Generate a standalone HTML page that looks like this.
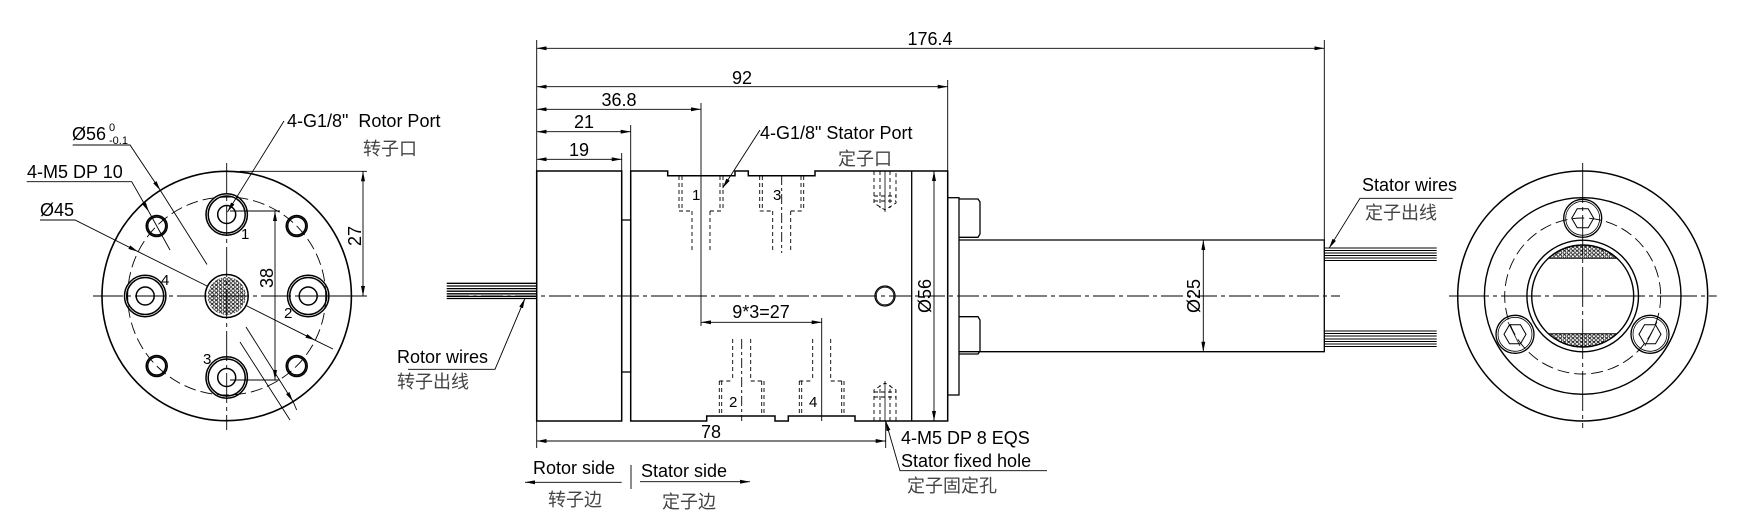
<!DOCTYPE html>
<html><head><meta charset="utf-8"><style>
html,body{margin:0;padding:0;background:#fff;}
svg{display:block;}
text{font-family:"Liberation Sans","Noto Sans CJK SC",sans-serif;font-size:18px;fill:#000;}
.cn{fill:#444;font-size:18px;}
</style></head><body>
<svg width="1742" height="517" viewBox="0 0 1742 517" xmlns="http://www.w3.org/2000/svg">
<defs>
<marker id="a" viewBox="0 0 10 4" refX="10" refY="2" markerWidth="10" markerHeight="4" markerUnits="userSpaceOnUse" orient="auto-start-reverse"><path d="M0,0 L10,2 L0,4 z" fill="#000"/></marker>
<pattern id="dots" width="4.2" height="3.8" patternUnits="userSpaceOnUse"><circle cx="2.1" cy="1.9" r="1.5" fill="none" stroke="#000" stroke-width="0.7"/></pattern>
</defs>
<g fill="none" stroke="#000" stroke-width="1.3">
<!-- ===== LEFT VIEW ===== -->
<circle cx="226.7" cy="296" r="124.7" stroke-width="1.6"/>
<circle cx="226.7" cy="296" r="99" stroke-width="0.9" stroke-dasharray="12 5"/>
<g stroke-width="0.9">
<line x1="93" y1="296" x2="367" y2="296" stroke-dasharray="30 4 4 4"/>
<line x1="226.7" y1="163" x2="226.7" y2="430" stroke-dasharray="30 4 4 4"/>
</g>
<g stroke-width="1.5">
<circle cx="226.7" cy="214.5" r="20.7"/><circle cx="226.7" cy="214.5" r="18.5"/><circle cx="226.7" cy="214.5" r="9"/>
<circle cx="308.2" cy="296" r="20.7"/><circle cx="308.2" cy="296" r="18.5"/><circle cx="308.2" cy="296" r="9"/>
<circle cx="226.7" cy="377.5" r="20.7"/><circle cx="226.7" cy="377.5" r="18.5"/><circle cx="226.7" cy="377.5" r="9"/>
<circle cx="145.2" cy="296" r="20.7"/><circle cx="145.2" cy="296" r="18.5"/><circle cx="145.2" cy="296" r="9"/>
<circle cx="156.7" cy="226" r="10.5"/><circle cx="156.7" cy="226" r="9"/>
<circle cx="296.7" cy="226" r="10.5"/><circle cx="296.7" cy="226" r="9"/>
<circle cx="156.7" cy="366" r="10.5"/><circle cx="156.7" cy="366" r="9"/>
<circle cx="296.7" cy="366" r="10.5"/><circle cx="296.7" cy="366" r="9"/>
</g>
<circle cx="226.7" cy="296" r="21.5" stroke-width="1.5"/>
<circle cx="226.7" cy="296" r="19" fill="url(#dots)" stroke="none"/>
<g stroke-width="0.9">
<line x1="240" y1="171.3" x2="367" y2="171.3"/>
<line x1="300" y1="296" x2="367" y2="296"/>
<line x1="363" y1="171.3" x2="363" y2="296" marker-start="url(#a)" marker-end="url(#a)"/>
<line x1="230" y1="211" x2="280" y2="211"/>
<line x1="230" y1="380" x2="280" y2="380"/>
<line x1="275" y1="211" x2="275" y2="380" marker-start="url(#a)" marker-end="url(#a)"/>
<polyline points="72.7,145 130,145 160.4,190.5" marker-end="url(#a)"/>
<line x1="160.4" y1="190.5" x2="207" y2="264.5"/>
<line x1="246" y1="327" x2="293" y2="401.5" marker-end="url(#a)"/>
<line x1="293" y1="401.5" x2="296.7" y2="410"/>
<polyline points="26.7,181.7 131.7,181.7 149,212" marker-end="url(#a)"/>
<line x1="149" y1="212" x2="170" y2="250"/>
<polyline points="40,220 75,220 138.2,251.7" marker-end="url(#a)"/>
<line x1="138.2" y1="251.7" x2="207" y2="286"/>
<line x1="246" y1="305.5" x2="315.2" y2="340.3" marker-end="url(#a)"/>
<line x1="315.2" y1="340.3" x2="333" y2="349"/>
<line x1="284" y1="121" x2="227.5" y2="212" marker-end="url(#a)"/>
<line x1="240" y1="342" x2="290" y2="420"/>
</g>

<!-- ===== SIDE VIEW ===== -->
<g stroke-width="1.3">
<line x1="446.7" y1="283.3" x2="536.7" y2="283.3"/><line x1="446.7" y1="286" x2="536.7" y2="286"/>
<line x1="446.7" y1="288.6" x2="536.7" y2="288.6"/><line x1="446.7" y1="291.2" x2="536.7" y2="291.2"/>
<line x1="446.7" y1="293.8" x2="536.7" y2="293.8"/><line x1="446.7" y1="296.4" x2="536.7" y2="296.4"/>
<line x1="446.7" y1="298.5" x2="536.7" y2="298.5"/>
</g>
<rect x="536.7" y="171" width="85" height="250" stroke-width="1.5"/>
<rect x="621.7" y="220" width="9" height="152"/>
<path d="M630.7,171 H667.7 V175.7 H735 V171 H748.3 V175.7 H815 V171 H947.7 V421 H855 V416 H788.3 V421 H775 V416 H706.7 V421 H630.7 Z" stroke-width="1.5"/>
<line x1="911.7" y1="171" x2="911.7" y2="421"/>
<rect x="947.7" y="197.7" width="11.3" height="197.3"/>
<path d="M959,199 H978 L980,202 V234 L978,237.3 H959"/>
<path d="M959,316.7 H978 L980,320 V351 L978,354 H959"/>
<path d="M959,240 H1324.3 V351.7 H959"/>
<circle cx="885" cy="296" r="10"/><circle cx="885" cy="296" r="8.8" stroke-width="0.8"/>
<g stroke-width="0.9" stroke-dasharray="4 3">
<line x1="679" y1="176" x2="679" y2="211"/><line x1="682" y1="176" x2="682" y2="211"/>
<line x1="720" y1="176" x2="720" y2="211"/><line x1="723" y1="176" x2="723" y2="211"/>
<line x1="679" y1="211" x2="692" y2="211"/><line x1="710" y1="211" x2="723" y2="211"/>
<line x1="692" y1="211" x2="692" y2="253"/><line x1="710" y1="211" x2="710" y2="253"/>
<line x1="759.7" y1="176" x2="759.7" y2="211"/><line x1="762.3" y1="176" x2="762.3" y2="211"/>
<line x1="801" y1="176" x2="801" y2="211"/><line x1="803.7" y1="176" x2="803.7" y2="211"/>
<line x1="759.7" y1="211" x2="772.7" y2="211"/><line x1="790.7" y1="211" x2="803.7" y2="211"/>
<line x1="772.7" y1="211" x2="772.7" y2="253"/><line x1="790.7" y1="211" x2="790.7" y2="253"/>
<line x1="781.7" y1="175" x2="781.7" y2="253" stroke-dasharray="10 3 3 3"/>
<line x1="719.3" y1="381" x2="719.3" y2="416"/><line x1="721.7" y1="381" x2="721.7" y2="416"/>
<line x1="761.7" y1="381" x2="761.7" y2="416"/><line x1="764" y1="381" x2="764" y2="416"/>
<line x1="719.3" y1="381" x2="732.7" y2="381"/><line x1="750.7" y1="381" x2="764" y2="381"/>
<line x1="732.7" y1="339" x2="732.7" y2="381"/><line x1="750.7" y1="339" x2="750.7" y2="381"/>
<line x1="741.7" y1="339" x2="741.7" y2="421" stroke-dasharray="10 3 3 3"/>
<line x1="799.3" y1="381" x2="799.3" y2="416"/><line x1="801.7" y1="381" x2="801.7" y2="416"/>
<line x1="841.7" y1="381" x2="841.7" y2="416"/><line x1="844" y1="381" x2="844" y2="416"/>
<line x1="799.3" y1="381" x2="812.7" y2="381"/><line x1="830.7" y1="381" x2="844" y2="381"/>
<line x1="812.7" y1="339" x2="812.7" y2="381"/><line x1="830.7" y1="339" x2="830.7" y2="381"/>
<path d="M874,171 V203 L885,210 L896,203 V171"/>
<line x1="880" y1="171" x2="880" y2="208"/><line x1="890" y1="171" x2="890" y2="208"/>
<line x1="874" y1="196" x2="896" y2="196"/><line x1="874" y1="201" x2="896" y2="201"/>
<path d="M874,421 V390 L885,383 L896,390 V421"/>
<line x1="880" y1="421" x2="880" y2="385"/><line x1="890" y1="421" x2="890" y2="385"/>
<line x1="874" y1="392" x2="896" y2="392"/><line x1="874" y1="397" x2="896" y2="397"/>
</g>
<line x1="885" y1="171" x2="885" y2="212" stroke-width="0.8"/>
<line x1="885" y1="381" x2="885" y2="421" stroke-width="0.8"/>
<line x1="447" y1="296" x2="1340" y2="296" stroke-width="0.9" stroke-dasharray="22 4 4 4"/>
<g stroke-width="1.1">
<line x1="1324.3" y1="248" x2="1436.7" y2="248"/><line x1="1324.3" y1="250.5" x2="1436.7" y2="250.5"/>
<line x1="1324.3" y1="253" x2="1436.7" y2="253"/><line x1="1324.3" y1="255.5" x2="1436.7" y2="255.5"/>
<line x1="1324.3" y1="258" x2="1436.7" y2="258"/><line x1="1324.3" y1="260.5" x2="1436.7" y2="260.5"/>
<line x1="1324.3" y1="331" x2="1436.7" y2="331"/><line x1="1324.3" y1="333.5" x2="1436.7" y2="333.5"/>
<line x1="1324.3" y1="336" x2="1436.7" y2="336"/><line x1="1324.3" y1="339" x2="1436.7" y2="339"/>
<line x1="1324.3" y1="341.5" x2="1436.7" y2="341.5"/><line x1="1324.3" y1="344" x2="1436.7" y2="344"/>
<line x1="1324.3" y1="346.5" x2="1436.7" y2="346.5"/>
</g>
<g stroke-width="0.9">
<line x1="536.7" y1="40" x2="536.7" y2="171"/>
<line x1="1324.3" y1="40" x2="1324.3" y2="240"/>
<line x1="947.7" y1="80" x2="947.7" y2="171"/>
<line x1="701" y1="103" x2="701" y2="326"/>
<line x1="630.7" y1="125" x2="630.7" y2="171"/>
<line x1="621.7" y1="153" x2="621.7" y2="171"/>
<line x1="536.7" y1="48.3" x2="1324.3" y2="48.3" marker-start="url(#a)" marker-end="url(#a)"/>
<line x1="536.7" y1="86.7" x2="947.7" y2="86.7" marker-start="url(#a)" marker-end="url(#a)"/>
<line x1="536.7" y1="109.3" x2="701" y2="109.3" marker-start="url(#a)" marker-end="url(#a)"/>
<line x1="536.7" y1="131.7" x2="630.7" y2="131.7" marker-start="url(#a)" marker-end="url(#a)"/>
<line x1="536.7" y1="159.3" x2="621.7" y2="159.3" marker-start="url(#a)" marker-end="url(#a)"/>
<line x1="821.7" y1="318" x2="821.7" y2="421"/>
<line x1="701" y1="322.3" x2="821.7" y2="322.3" marker-start="url(#a)" marker-end="url(#a)"/>
<line x1="934" y1="171" x2="934" y2="421" marker-start="url(#a)" marker-end="url(#a)"/>
<line x1="1203.3" y1="240" x2="1203.3" y2="351.7" marker-start="url(#a)" marker-end="url(#a)"/>
<line x1="536.7" y1="421" x2="536.7" y2="448"/>
<line x1="885.7" y1="421" x2="885.7" y2="448"/>
<line x1="536.7" y1="441" x2="885.7" y2="441" marker-start="url(#a)" marker-end="url(#a)"/>
<polyline points="760,130 722.7,188" marker-end="url(#a)"/>
<polyline points="408,369.3 495,369.3 525,298.3" marker-end="url(#a)"/>
<polyline points="1452.7,198.3 1360,198.3 1329,248.3" marker-end="url(#a)"/>
<polyline points="1047,470.7 900,470.7 885.7,421" marker-end="url(#a)"/>
<line x1="621.7" y1="482.3" x2="525" y2="482.3" marker-end="url(#a)"/>
<line x1="640" y1="481.7" x2="750" y2="481.7" marker-end="url(#a)"/>
<line x1="631" y1="465" x2="631" y2="489"/>
</g>

<!-- ===== RIGHT VIEW ===== -->
<circle cx="1582.7" cy="296" r="125" stroke-width="1.5"/>
<circle cx="1582.7" cy="296" r="98.3" stroke-width="1.4"/>
<circle cx="1582.7" cy="296" r="78" stroke-width="0.9" stroke-dasharray="12 5"/>
<circle cx="1582.7" cy="296" r="55.8" stroke-width="1.4"/>
<circle cx="1582.7" cy="296" r="51" stroke-width="1.4"/>
<path d="M1548.4,258.3 A51 51 0 0 1 1617,258.3 Z" fill="url(#dots)" stroke-width="1"/>
<path d="M1548.4,333.7 A51 51 0 0 0 1617,333.7 Z" fill="url(#dots)" stroke-width="1"/>
<g stroke-width="0.9">
<line x1="1449" y1="296" x2="1716.7" y2="296" stroke-dasharray="40 4 4 4"/>
<line x1="1582.7" y1="163" x2="1582.7" y2="428" stroke-dasharray="40 4 4 4"/>
</g>
<g>
<circle cx="1582.7" cy="218.3" r="19"/><circle cx="1582.7" cy="218.3" r="17" stroke-width="0.8"/>
<polygon points="1593.7,218.3 1588.2,227.8 1577.2,227.8 1571.7,218.3 1577.2,208.8 1588.2,208.8" stroke-width="1"/>
<circle cx="1515" cy="334.3" r="19"/><circle cx="1515" cy="334.3" r="17" stroke-width="0.8"/>
<polygon points="1526,334.3 1520.5,343.8 1509.5,343.8 1504,334.3 1509.5,324.8 1520.5,324.8" stroke-width="1"/>
<circle cx="1650" cy="334.3" r="19"/><circle cx="1650" cy="334.3" r="17" stroke-width="0.8"/>
<polygon points="1661,334.3 1655.5,343.8 1644.5,343.8 1639,334.3 1644.5,324.8 1655.5,324.8" stroke-width="1"/>
<line x1="1508" y1="322" x2="1520" y2="346" stroke-width="0.8"/>
<line x1="1657" y1="322" x2="1645" y2="346" stroke-width="0.8"/>
</g>
</g>

<!-- ===== TEXT ===== -->
<text x="72" y="140">Ø56</text>
<text x="109" y="131" style="font-size:11px">0</text>
<text x="109" y="144" style="font-size:11px">-0.1</text>
<text x="27" y="178">4-M5 DP 10</text>
<text x="40" y="216">Ø45</text>
<text x="287" y="127" xml:space="preserve">4-G1/8"  Rotor Port</text>
<text x="363" y="155" class="cn">转子口</text>
<text x="241" y="239" style="font-size:15px">1</text>
<text x="284" y="318" style="font-size:15px">2</text>
<text x="203" y="364" style="font-size:15px">3</text>
<text x="161" y="285" style="font-size:15px">4</text>
<text transform="translate(361,236) rotate(-90)" text-anchor="middle">27</text>
<text transform="translate(273,278) rotate(-90)" text-anchor="middle">38</text>

<text x="930" y="45" text-anchor="middle">176.4</text>
<text x="742" y="84" text-anchor="middle">92</text>
<text x="619" y="106" text-anchor="middle">36.8</text>
<text x="584" y="128" text-anchor="middle">21</text>
<text x="579" y="156" text-anchor="middle">19</text>
<text x="760" y="139">4-G1/8" Stator Port</text>
<text x="838" y="165" class="cn">定子口</text>
<text x="692" y="200" style="font-size:15px">1</text>
<text x="773" y="200" style="font-size:15px">3</text>
<text x="729" y="407" style="font-size:15px">2</text>
<text x="809" y="407" style="font-size:15px">4</text>
<text x="761" y="318" text-anchor="middle">9*3=27</text>
<text transform="translate(931,296) rotate(-90)" text-anchor="middle">Ø56</text>
<text transform="translate(1200,296) rotate(-90)" text-anchor="middle">Ø25</text>
<text x="711" y="438" text-anchor="middle">78</text>
<text x="397" y="363">Rotor wires</text>
<text x="397" y="388" class="cn">转子出线</text>
<text x="1362" y="191">Stator wires</text>
<text x="1365" y="219" class="cn">定子出线</text>
<text x="901" y="444">4-M5 DP 8 EQS</text>
<text x="901" y="467">Stator fixed hole</text>
<text x="907" y="492" class="cn">定子固定孔</text>
<text x="533" y="474">Rotor side</text>
<text x="641" y="477">Stator side</text>
<text x="548" y="506" class="cn">转子边</text>
<text x="662" y="508" class="cn">定子边</text>
</svg>
</body></html>
